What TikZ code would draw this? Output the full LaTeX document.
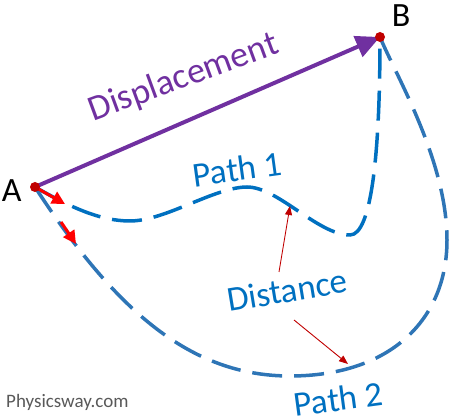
\documentclass[tikz,border=0pt]{standalone}
\usepackage{fontspec}
\setmainfont{Carlito}
\usetikzlibrary{positioning,arrows.meta,backgrounds}
\definecolor{pathblue}{HTML}{0070C0}
\definecolor{pathblueb}{HTML}{2E75B6}
\definecolor{disppurple}{HTML}{7030A0}
\definecolor{dotred}{HTML}{C00000}
\definecolor{tagred}{HTML}{FF0000}
\definecolor{creditgray}{HTML}{595959}

\begin{document}
\begin{tikzpicture}[
  x=1pt, y=-1pt,
  dot/.style={circle, fill=dotred, inner sep=0pt, minimum size=10pt},
  ptname/.style={font=\fontsize{34}{40}\selectfont, inner sep=0pt},
  lbl/.style={font=\fontsize{35}{42}\selectfont, text=pathblue, inner sep=0pt, anchor=base},
  route/.style={dash pattern=on 30pt off 12pt, line width=3.5pt},
  heading/.style={-{Triangle[length=13pt, width=13pt]}, line width=3pt, tagred},
  hint/.style={-{Triangle[length=9pt, width=7pt]}, line width=0.9pt, dotred},
]
\useasboundingbox (0,0) rectangle (453,419);
% ---- end points ----
\node[dot] (A) at (35,187) {};
\node[dot] (B) at (380,37) {};
\node[ptname, left=8pt of A, yshift=-4pt] (Alab) {A};
\node[ptname, above right=7pt and 8pt of B] (Blab) {B};
% ---- labels ----
\node[lbl, text=disppurple, font=\fontsize{36}{42}\selectfont, rotate=20.2] (disp) at (187,87) {Displacement};
\node[lbl, rotate=7.8] (path1) at (239,181) {Path 1};
\node[lbl, rotate=9.3] (dist) at (289,302) {Distance};
\node[lbl, rotate=7.6] (path2) at (340,411) {Path 2};
\node[anchor=base west, inner sep=0pt, font=\fontsize{19}{22}\selectfont, text=creditgray] (credit) at (6,408) {Physicsway.com};
% ---- helper points ----
\coordinate (h1) at (65,204);
\coordinate (h2s) at (61,222);
\coordinate (h2) at (76,244);
\coordinate (d1) at (279,272);
\coordinate (p1) at (290,206);
\coordinate (d2) at (294,320);
\coordinate (p2) at (348,364);
% ---- paths, displacement, arrows (under the dots) ----
\begin{scope}[on background layer]
  \draw[route, pathblue] (A.center)
    .. controls (70,207) and (100,221) .. (130,221)
    .. controls (165,221) and (215,187) .. (247,187)
    .. controls (278,187) and (318,235) .. (350,235)
    .. controls (372,235) and (380,150) .. (B.center);
  \draw[route, pathblueb] (A.center)
    .. controls (115,310) and (190,376) .. (290,376)
    .. controls (390,376) and (447,320) .. (447,240)
    .. controls (447,160) and (395,74) .. (B.center);
  \draw[disppurple, line width=4pt, -{Triangle[length=24pt, width=22pt]}] (A.center) -- (B.center);
  \draw[heading] (A.center) -- (h1);
  \draw[heading] (h2s) -- (h2);
  \draw[hint] (d1) -- (p1);
  \draw[hint] (d2) -- (p2);
\end{scope}
\end{tikzpicture}
\end{document}
